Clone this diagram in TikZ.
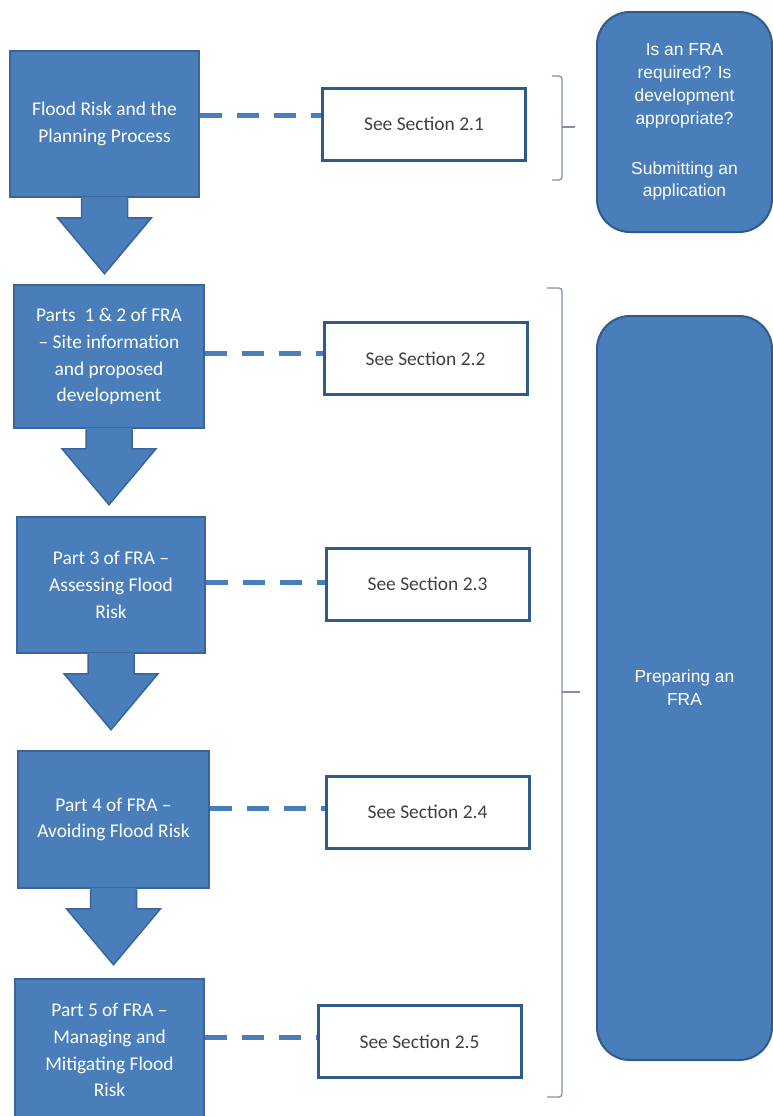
\documentclass[tikz,border=0pt]{standalone}
\usepackage{fontspec}
\setmainfont{Carlito}
\newfontfamily\arialfont{Liberation Sans}
\definecolor{fraBlue}{HTML}{4A7EBB}
\definecolor{fraEdge}{HTML}{3A659A}
\definecolor{seeEdge}{HTML}{2E5A8C}
\definecolor{seeText}{HTML}{404040}
\definecolor{brk}{HTML}{8090A8}
\tikzset{
  stepbox/.style={rectangle, fill=fraBlue, draw=fraEdge, line width=1.5bp, text=white,
    align=center, inner sep=0pt, font=\fontsize{19.5}{27}\selectfont},
  seebox/.style={rectangle, fill=white, draw=seeEdge, line width=3bp, text=seeText,
    minimum width=203bp, minimum height=72bp, inner sep=0pt, font=\fontsize{19.5}{24}\selectfont},
  sidebox/.style={rectangle, rounded corners=33bp, fill=fraBlue, draw=seeEdge, line width=2bp,
    text=white, align=center, inner sep=0pt, font=\arialfont\fontsize{17.5}{23}\selectfont},
  dashline/.style={draw=fraBlue, line width=5bp, dash pattern=on 22bp off 15bp},
  bracket/.style={draw=brk, line width=1.3bp, rounded corners=3bp},
  arrowfill/.style={fill=fraBlue},
  arrowedge/.style={draw=fraEdge, line width=1.5bp, line join=miter}
}
\newcommand\blockarrow[1]{%
  \fill[arrowfill] (#1.south) +(-23,-1) -- +(-23,20) -- +(-47,20) -- +(0,76) -- +(47,20) -- +(23,20) -- +(23,-1) -- cycle;
  \draw[arrowedge] (#1.south) +(-23,0.5) -- +(-23,20) -- +(-47,20) -- +(0,76) -- +(47,20) -- +(23,20) -- +(23,0.5);
}
\begin{document}
\begin{tikzpicture}[x=1bp,y=-1bp]
\useasboundingbox (0,0) rectangle (773,1116);
\clip (0,0) rectangle (773,1116);
\fill[white] (0,0) rectangle (773,1116);

% left step boxes
\node[stepbox, minimum width=189bp, minimum height=146bp] (b1) at (104.5,124) {Flood Risk and the\\Planning Process};
\node[stepbox, minimum width=190bp, minimum height=143bp] (b2) at (109,356.5) {Parts \ 1 \& 2 of FRA\\– Site information\\and proposed\\development};
\node[stepbox, minimum width=188bp, minimum height=136bp] (b3) at (111,585) {Part 3 of FRA –\\Assessing Flood\\Risk};
\node[stepbox, minimum width=191bp, minimum height=137bp] (b4) at (113.5,819.5) {Part 4 of FRA –\\Avoiding Flood Risk};
\node[stepbox, minimum width=189bp, minimum height=142bp] (b5) at (109.5,1050) {Part 5 of FRA –\\Managing and\\Mitigating Flood\\Risk};

% block arrows
\blockarrow{b1}
\blockarrow{b2}
\blockarrow{b3}
\blockarrow{b4}

% see boxes
\node[seebox] (s1) at (424,124) {See Section 2.1};
\node[seebox] (s2) at (425.5,358.5) {See Section 2.2};
\node[seebox] (s3) at (427.5,584) {See Section 2.3};
\node[seebox] (s4) at (427.5,812) {See Section 2.4};
\node[seebox] (s5) at (419.5,1041.5) {See Section 2.5};

% dashed connectors
\coordinate (d1) at ([yshift=9bp]b1.east);
\coordinate (d2) at ([yshift=3.5bp]b2.east);
\coordinate (d3) at ([yshift=3bp]b3.east);
\coordinate (d4) at ([yshift=11.5bp]b4.east);
\coordinate (d5) at ([yshift=13bp]b5.east);
\draw[dashline] (d1) -- (d1 -| s1.west);
\draw[dashline] (d2) -- (d2 -| s2.west);
\draw[dashline] (d3) -- (d3 -| s3.west);
\draw[dashline] (d4) -- (d4 -| s4.west);
\draw[dashline] (d5) -- (d5 -| s5.west);

% side boxes
\node[sidebox, minimum width=175bp, minimum height=220bp] (r1) at (684.5,122)
  {Is an FRA\\required? Is\\development\\appropriate?\\[27bp]Submitting an\\application};
\node[sidebox, minimum width=175bp, minimum height=744bp] (r2) at (684.5,688)
  {Preparing an\\FRA};

% brackets
\draw[bracket] (552,76) -- (562,76) -- (562,180) -- (552,180);
\draw[bracket] (562,127) -- (575,127);
\draw[bracket] (547,288) -- (562,288) -- (562,1097) -- (547,1097);
\draw[bracket] (562,692) -- (580,692);
\end{tikzpicture}
\end{document}
